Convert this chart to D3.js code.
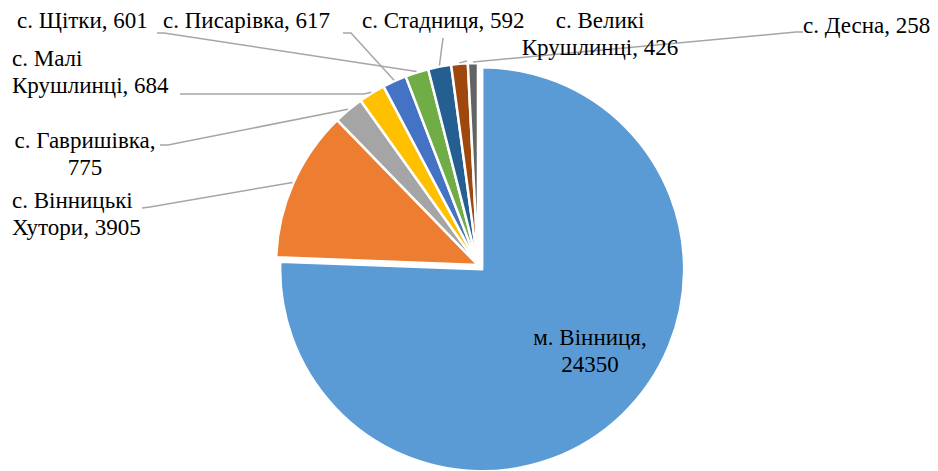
<!DOCTYPE html>
<html>
<head>
<meta charset="utf-8">
<script src="https://cdn.jsdelivr.net/npm/d3@7"></script>
<style>
  html, body { margin: 0; padding: 0; background: #fff; }
  svg { display: block; }
</style>
</head>
<body>
<svg id="chart" width="938" height="471"></svg>
<script>
// Населення за населеними пунктами
const categories = [
  "м. Вінниця",
  "с. Вінницькі Хутори",
  "с. Гавришівка",
  "с. Малі Крушлинці",
  "с. Писарівка",
  "с. Щітки",
  "с. Стадниця",
  "с. Великі Крушлинці",
  "с. Десна"
];
const values = [24350, 3905, 775, 684, 617, 601, 592, 426, 258];
const colors = ["#5B9BD5", "#ED7D31", "#A5A5A5", "#FFC000", "#4472C4", "#70AD47", "#255E91", "#9E480E", "#636363"];

// Label placement: words on first line, anchor point (baseline), alignment, leader-line bend points
const labelLayout = [
  { firstLine: 2, x: 590, y: 345, anchor: "middle", leader: null },
  { firstLine: 2, x: 12,  y: 208, anchor: "start",  leader: [[142, 208], [150, 207]] },
  { firstLine: 2, x: 85,  y: 148, anchor: "middle", leader: [[160, 145], [168, 145]] },
  { firstLine: 2, x: 12,  y: 66,  anchor: "start",  leader: [[180, 94], [364, 94]] },
  { firstLine: 0, x: 163, y: 28,  anchor: "start",  leader: [[343, 33], [351, 33]] },
  { firstLine: 0, x: 17,  y: 28,  anchor: "start",  leader: [[157, 33], [164, 33]] },
  { firstLine: 0, x: 362, y: 28,  anchor: "start",  leader: [[443, 38]] },
  { firstLine: 2, x: 600, y: 28,  anchor: "middle", leader: [[467, 61]] },
  { firstLine: 0, x: 803, y: 33,  anchor: "start",  leader: [[803, 32], [796, 32]] }
];

const cx = 478, cy = 265, radius = 202, explode = 6, lineHeight = 27;

const svg = d3.select("#chart");
const g = svg.append("g").attr("transform", `translate(${cx},${cy})`);

const data = categories.map((c, i) => ({ name: c, value: values[i], color: colors[i], layout: labelLayout[i] }));

const pie = d3.pie().sort(null).value(d => d.value).startAngle(0).endAngle(2 * Math.PI);
const arcs = pie(data);
const arc = d3.arc().innerRadius(0).outerRadius(radius);

// Main slice is pulled out slightly along its bisector
function offsetOf(a, i) {
  if (i !== 0) return [0, 0];
  const mid = (a.startAngle + a.endAngle) / 2;
  return [Math.sin(mid) * explode, -Math.cos(mid) * explode];
}

g.selectAll("path.slice")
  .data(arcs)
  .join("path")
  .attr("class", "slice")
  .attr("d", arc)
  .attr("transform", (a, i) => { const o = offsetOf(a, i); return `translate(${o[0]},${o[1]})`; })
  .attr("fill", a => a.data.color)
  .attr("stroke", "#fff")
  .attr("stroke-width", 2.5)
  .attr("stroke-linejoin", "round");

// Leader lines from the slice rim to the labels
const line = d3.line();
arcs.forEach((a, i) => {
  const lay = a.data.layout;
  if (!lay.leader) return;
  const mid = (a.startAngle + a.endAngle) / 2;
  const o = offsetOf(a, i);
  const rim = [cx + o[0] + Math.sin(mid) * (radius + 1), cy + o[1] - Math.cos(mid) * (radius + 1)];
  const pts = lay.leader.concat([rim]);
  svg.append("path")
    .attr("d", line(pts))
    .attr("fill", "none")
    .attr("stroke", "#A6A6A6")
    .attr("stroke-width", 1.5);
});

// Data labels: "name, value", optionally broken after a number of words
arcs.forEach(a => {
  const lay = a.data.layout;
  const words = `${a.data.name}, ${a.data.value}`.split(" ");
  const rows = lay.firstLine > 0
    ? [words.slice(0, lay.firstLine).join(" "), words.slice(lay.firstLine).join(" ")]
    : [words.join(" ")];
  rows.forEach((r, k) => {
    svg.append("text")
      .attr("x", lay.x)
      .attr("y", lay.y + k * lineHeight)
      .attr("font-family", "Liberation Serif")
      .attr("font-size", 23)
      .attr("fill", "#000")
      .attr("text-anchor", lay.anchor)
      .text(r);
  });
});
</script>
</body>
</html>
